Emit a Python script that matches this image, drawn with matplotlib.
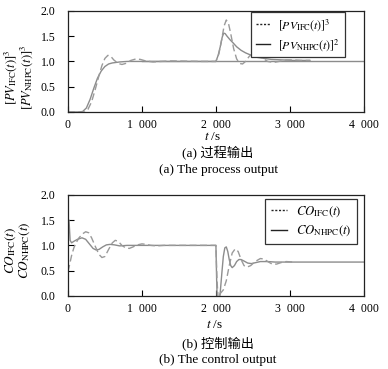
import matplotlib
matplotlib.use("Agg")
import matplotlib.pyplot as plt
from matplotlib.lines import Line2D

plt.rcParams['font.family'] = ['Liberation Serif', 'DejaVu Serif']
plt.rcParams['mathtext.fontset'] = 'stix'

# ---- data: (a) process output ----
pv_nhpc_t = [0, 150, 200, 250, 300, 350, 400, 450, 500, 550, 600, 700, 800, 1000, 1500,
             2000, 2030, 2060, 2085, 2105, 2125, 2150, 2190, 2230, 2280, 2340, 2400,
             2480, 2560, 2650, 2750, 2900, 3050, 3270]
pv_nhpc_y = [0.0, 0.0, 0.01, 0.08, 0.25, 0.47, 0.67, 0.81, 0.9, 0.95, 0.97, 0.99, 1.0, 1.0, 1.0,
             1.0, 1.12, 1.3, 1.48, 1.56, 1.55, 1.5, 1.43, 1.37, 1.29, 1.22, 1.17,
             1.12, 1.08, 1.06, 1.04, 1.03, 1.02, 1.02]

pv_ifc_t = [0, 200, 230, 270, 320, 370, 420, 460, 500, 540, 580, 620, 680, 730, 780, 850,
            920, 980, 1050, 1150, 1250, 1400, 1800, 2000, 2040, 2080, 2110, 2140, 2170,
            2200, 2240, 2280, 2320, 2360, 2400, 2450, 2500, 2550, 2620, 2700, 2780,
            2850, 2950, 3050, 3150, 3270]
pv_ifc_y = [0.0, 0.0, 0.0, 0.05, 0.2, 0.45, 0.72, 0.92, 1.06, 1.12, 1.1, 1.03, 0.96, 0.94,
            0.96, 1.02, 1.05, 1.04, 1.01, 0.99, 1.0, 1.01, 1.0, 1.0, 1.15, 1.45, 1.7, 1.82,
            1.75, 1.55, 1.25, 1.05, 0.96, 0.95, 1.0, 1.1, 1.16, 1.15, 1.07, 1.0, 0.98,
            1.0, 1.03, 1.03, 1.02, 1.02]

pv_ref_t = [1000, 4000]
pv_ref_y = [1.0, 1.0]

# ---- data: (b) control output ----
co_nhpc_t = [0, 15, 30, 50, 80, 130, 190, 240, 290, 340, 380, 420, 470, 520, 570, 630,
             700, 800, 2000, 2010, 2020, 2040, 2060, 2080, 2100, 2120, 2140, 2160, 2180,
             2200, 2220, 2250, 2280, 2310, 2340, 2380, 2430, 2480, 2540, 2600, 2700,
             2800, 4000]
co_nhpc_y = [1.5, 1.5, 1.1, 1.05, 1.08, 1.12, 1.15, 1.12, 1.03, 0.94, 0.91, 0.92, 0.97,
             1.01, 1.02, 1.01, 0.99, 1.0, 1.0, 0.3, -0.2, -0.2, 0.1, 0.45, 0.78, 0.95,
             0.97, 0.88, 0.72, 0.6, 0.56, 0.6, 0.68, 0.72, 0.72, 0.69, 0.65, 0.64, 0.66,
             0.68, 0.68, 0.67, 0.67]

co_ifc_t = [0, 20, 50, 80, 110, 150, 200, 240, 280, 320, 370, 420, 460, 500, 550, 600,
            640, 680, 730, 780, 830, 880, 940, 1000, 1060, 1120, 1200, 1300, 1400, 2000,
            2015, 2030, 2060, 2100, 2140, 2180, 2220, 2260, 2300, 2340, 2380, 2420,
            2470, 2530, 2600, 2650, 2700, 2760, 2820, 2880, 2950, 3050]
co_ifc_y = [0.48, 0.6, 0.8, 0.95, 1.05, 1.15, 1.23, 1.27, 1.25, 1.15, 0.98, 0.82, 0.76,
            0.78, 0.92, 1.05, 1.1, 1.08, 1.0, 0.95, 0.94, 0.97, 1.01, 1.03, 1.02, 1.0,
            0.99, 1.0, 1.0, 1.0, 0.3, -0.05, 0.05, 0.12, 0.3, 0.6, 0.85, 0.93, 0.88,
            0.72, 0.6, 0.57, 0.6, 0.68, 0.74, 0.73, 0.68, 0.63, 0.63, 0.66, 0.68, 0.67]

x_ticks = [0, 1000, 2000, 3000, 4000]
x_ticklabels = ['0', '1  000', '2  000', '3  000', '4  000']
y_ticks = [0.0, 0.5, 1.0, 1.5, 2.0]
y_ticklabels = ['0.0', '0.5', '1.0', '1.5', '2.0']

solid_c = '#8c8c8c'
dash_c = '#9a9a9a'

fig = plt.figure(figsize=(3.88, 3.69), dpi=100)
ax1 = fig.add_axes([0.175, 0.6965, 0.763, 0.274])
ax2 = fig.add_axes([0.175, 0.198, 0.763, 0.274])


def style(ax):
    ax.set_xlim(0, 4000)
    ax.set_ylim(0, 2.0)
    ax.set_xticks(x_ticks)
    ax.set_xticklabels(x_ticklabels)
    ax.set_yticks(y_ticks)
    ax.set_yticklabels(y_ticklabels)
    ax.tick_params(axis='both', direction='in', length=4, width=0.8, labelsize=8.5,
                   top=False, right=False)
    ax.tick_params(axis='y', pad=9)
    ax.tick_params(axis='x', pad=5)
    for s in ax.spines.values():
        s.set_linewidth(0.9)
        s.set_color('#222222')


# (a)
ax1.plot(pv_ref_t, pv_ref_y, color=solid_c, lw=1.0)
ax1.plot(pv_nhpc_t, pv_nhpc_y, color=solid_c, lw=1.0)
ax1.plot(pv_ifc_t, pv_ifc_y, color=dash_c, lw=1.0, ls=(0, (5, 2.5)))
style(ax1)
ax1.set_ylabel('$[PV_{\\mathrm{IFC}}(t)]^3$\n$[PV_{\\mathrm{NHPC}}(t)]^3$',
               fontsize=9, linespacing=0.95)
ax1.yaxis.set_label_coords(-0.112, 0.34)
h1 = [Line2D([], [], color='#222222', lw=1.0, ls=(0, (1.5, 1.2))),
      Line2D([], [], color='#222222', lw=1.0)]
leg1 = ax1.legend(h1, ['$[PV_{\\mathrm{IFC}}(t)]^3$', '$[PV_{\\mathrm{NHPC}}(t)]^2$'],
                  loc='upper right', bbox_to_anchor=(0.936, 0.99), borderaxespad=0,
                  fontsize=8.5, handlelength=1.2, handletextpad=0.7, labelspacing=0.35,
                  borderpad=0.4, fancybox=False, framealpha=1, edgecolor='#333333')
leg1.get_frame().set_linewidth(0.9)

# (b)
ax2.plot(co_nhpc_t, co_nhpc_y, color=solid_c, lw=1.0)
ax2.plot(co_ifc_t, co_ifc_y, color=dash_c, lw=1.0, ls=(0, (5, 2.5)))
style(ax2)
ax2.set_ylabel('$CO_{\\mathrm{IFC}}(t)$\n$CO_{\\mathrm{NHPC}}(t)$', fontsize=9.5,
               linespacing=0.95)
ax2.yaxis.set_label_coords(-0.12, 0.455)
h2 = [Line2D([], [], color='#222222', lw=1.0, ls=(0, (1.5, 1.2))),
      Line2D([], [], color='#222222', lw=1.0)]
leg2 = ax2.legend(h2, ['$CO_{\\mathrm{IFC}}(t)$', '$CO_{\\mathrm{NHPC}}(t)$'],
                  loc='upper right', bbox_to_anchor=(0.976, 0.96), borderaxespad=0,
                  fontsize=9.2, handlelength=1.2, handletextpad=0.7, labelspacing=0.35,
                  borderpad=0.45, fancybox=False, framealpha=1, edgecolor='#333333')
leg2.get_frame().set_linewidth(0.9)

fam = ['Liberation Serif', 'Noto Sans CJK SC']
# captions (a)
fig.text(0.548, 1 - 137 / 369, '$t$ /s', ha='center', va='center', fontsize=9.5)
fig.text(0.562, 1 - 153 / 369, '(a) 过程输出', ha='center', va='center', fontsize=9.5,
         family=fam)
fig.text(0.562, 1 - 170 / 369, '(a) The process output', ha='center', va='center',
         fontsize=9.5)
# captions (b)
fig.text(0.554, 1 - 325 / 369, '$t$ /s', ha='center', va='center', fontsize=9.5)
fig.text(0.562, 1 - 343 / 369, '(b) 控制输出', ha='center', va='center', fontsize=9.5,
         family=fam)
fig.text(0.562, 1 - 360 / 369, '(b) The control output', ha='center', va='center',
         fontsize=9.5)

fig.savefig('out.png', dpi=100)
